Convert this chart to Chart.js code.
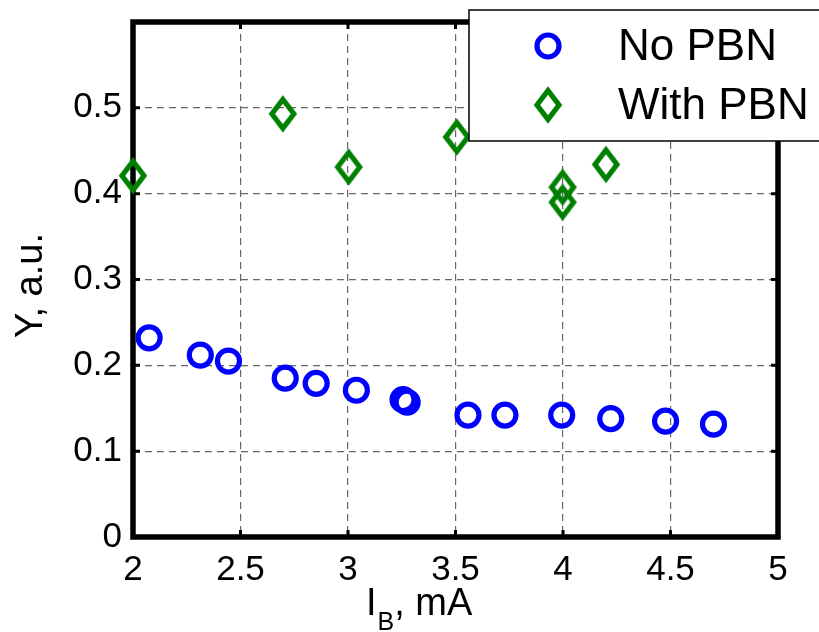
<!DOCTYPE html>
<html>
<head>
<meta charset="utf-8">
<script src="https://cdn.jsdelivr.net/npm/chart.js@4/dist/chart.umd.min.js"></script>
<style>
  html, body { margin: 0; padding: 0; background: #fff; }
  #wrap { width: 819px; height: 632px; position: relative; }
</style>
</head>
<body>
<div id="wrap"><canvas id="c"></canvas></div>
<script>
// values
const noPbnX = [2.075, 2.313, 2.444, 2.708, 2.852, 3.039, 3.256, 3.275, 3.558, 3.730, 3.994, 4.222, 4.477, 4.700];
const noPbnY = [0.232, 0.212, 0.205, 0.185, 0.179, 0.171, 0.160, 0.157, 0.142, 0.142, 0.142, 0.138, 0.135, 0.1315];
const withPbnX = [2.0, 2.697, 3.003, 3.506, 3.998, 3.998, 4.20];
const withPbnY = [0.421, 0.493, 0.431, 0.466, 0.4075, 0.390, 0.434];
const xTicks = [2, 2.5, 3, 3.5, 4, 4.5, 5];
const yTicks = [0, 0.1, 0.2, 0.3, 0.4, 0.5];
const seriesNames = ['No PBN', 'With PBN'];

const FONT = '"Liberation Sans", Arial, sans-serif';
const BLUE = '#0000ff';
const GREEN = '#008000';

// matlab style diamond (taller than wide)
function makeDiamond() {
    const cv = document.createElement('canvas');
    cv.width = 36; cv.height = 46;
    const g = cv.getContext('2d');
    g.strokeStyle = GREEN;
    g.lineWidth = 5.2;
    g.lineJoin = 'miter';
    g.beginPath();
    g.moveTo(18, 23 - 14.5);
    g.lineTo(18 + 11, 23);
    g.lineTo(18, 23 + 14.5);
    g.lineTo(18 - 11, 23);
    g.closePath();
    g.stroke();
    return cv;
}
const diamond = makeDiamond();

const toPts = (xs, ys) => xs.map((x, i) => ({ x: x, y: ys[i] }));

const frame = {
    id: 'frame',
    beforeDatasetsDraw(chart) {
        const { ctx, chartArea: a, scales } = chart;
        ctx.save();
        ctx.strokeStyle = '#000';
        // inside tick marks
        ctx.lineWidth = 3;
        xTicks.forEach(v => {
            const px = scales.x.getPixelForValue(v);
            ctx.beginPath();
            ctx.moveTo(px, a.bottom); ctx.lineTo(px, a.bottom - 7);
            ctx.moveTo(px, a.top); ctx.lineTo(px, a.top + 7);
            ctx.stroke();
        });
        yTicks.forEach(v => {
            const py = scales.y.getPixelForValue(v);
            ctx.beginPath();
            ctx.moveTo(a.left, py); ctx.lineTo(a.left + 7, py);
            ctx.moveTo(a.right, py); ctx.lineTo(a.right - 7, py);
            ctx.stroke();
        });
        ctx.lineWidth = 5.5;
        ctx.strokeRect(a.left, a.top, a.right - a.left, a.bottom - a.top);
        ctx.restore();
    },
    afterDraw(chart) {
        const { ctx } = chart;
        ctx.save();
        ctx.fillStyle = '#000';
        // y title
        ctx.font = '38px ' + FONT;
        ctx.translate(42, 285.5);
        ctx.rotate(-Math.PI / 2);
        ctx.textAlign = 'center';
        ctx.textBaseline = 'alphabetic';
        ctx.fillText('Y, a.u.', 0, 0);
        ctx.setTransform(1, 0, 0, 1, 0, 0);
        // x title with subscript
        ctx.textAlign = 'left';
        let x = 366;
        ctx.font = '38px ' + FONT;
        ctx.fillText('I', x, 615);
        x += ctx.measureText('I').width + 1;
        ctx.font = '25px ' + FONT;
        ctx.fillText('B', x, 630);
        x += ctx.measureText('B').width;
        ctx.font = '38px ' + FONT;
        ctx.fillText(', mA', x, 615);

        // legend box, overlapping the plot and running off the right edge
        ctx.fillStyle = '#fff';
        ctx.fillRect(469, 10, 400, 131);
        ctx.strokeStyle = '#000';
        ctx.lineWidth = 1.5;
        ctx.strokeRect(469, 10, 400, 131);
        ctx.strokeStyle = BLUE;
        ctx.lineWidth = 5.2;
        ctx.beginPath();
        ctx.arc(548, 46, 11, 0, Math.PI * 2);
        ctx.stroke();
        ctx.drawImage(diamond, 548 - diamond.width / 2, 105 - diamond.height / 2);
        ctx.fillStyle = '#000';
        ctx.font = '44px ' + FONT;
        ctx.textBaseline = 'middle';
        ctx.fillText(seriesNames[0], 618, 48);
        ctx.fillText(seriesNames[1], 618, 107);
        ctx.restore();
    }
};

new Chart(document.getElementById('c'), {
    type: 'scatter',
    data: {
        datasets: [
            {
                label: seriesNames[0],
                data: toPts(noPbnX, noPbnY),
                pointStyle: 'circle',
                pointRadius: 11,
                borderColor: BLUE,
                backgroundColor: 'rgba(0,0,0,0)',
                borderWidth: 5.2,
                clip: false
            },
            {
                label: seriesNames[1],
                data: toPts(withPbnX, withPbnY),
                pointStyle: diamond,
                pointRadius: 14,
                borderColor: GREEN,
                backgroundColor: 'rgba(0,0,0,0)',
                clip: false
            }
        ]
    },
    options: {
        responsive: true,
        maintainAspectRatio: false,
        animation: false,
        events: [],
        layout: { padding: { left: 0, top: 22, right: 41, bottom: 0 } },
        plugins: { legend: { display: false }, tooltip: { enabled: false } },
        scales: {
            x: {
                type: 'linear', min: 2, max: 5,
                afterBuildTicks: s => { s.ticks = xTicks.map(v => ({ value: v })); },
                afterFit: s => { s.height = 95; s.paddingLeft = 0; s.paddingRight = 0; },
                grid: { color: '#666', lineWidth: 1.2, drawTicks: false },
                border: { display: false, dash: [7, 5] },
                ticks: {
                    color: '#000', padding: 12, maxRotation: 0,
                    font: { family: FONT, size: 35 },
                    callback: v => String(v)
                }
            },
            y: {
                type: 'linear', min: 0, max: 0.6,
                afterBuildTicks: s => { s.ticks = yTicks.map(v => ({ value: v })); },
                afterFit: s => { s.width = 133; s.paddingTop = 0; s.paddingBottom = 0; },
                grid: { color: '#666', lineWidth: 1.2, drawTicks: false },
                border: { display: false, dash: [7, 5] },
                ticks: {
                    color: '#000', padding: 11,
                    font: { family: FONT, size: 35 },
                    callback: v => String(v)
                }
            }
        }
    },
    plugins: [frame]
});
</script>
</body>
</html>
